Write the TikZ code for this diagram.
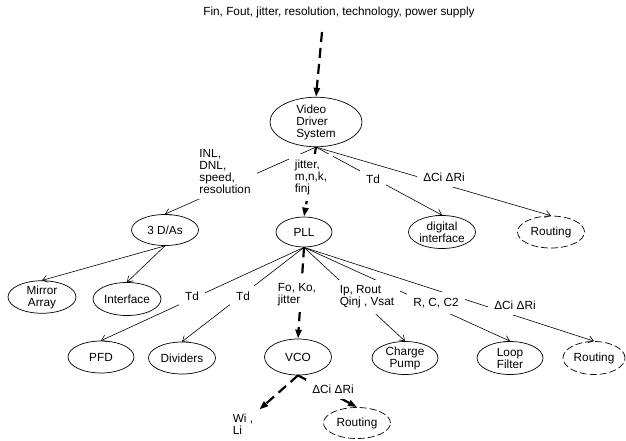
\documentclass[tikz,border=0pt]{standalone}
\usepackage{fontspec}
\setmainfont{Liberation Sans}
\usetikzlibrary{shapes.geometric,arrows.meta}

\begin{document}
\begin{tikzpicture}[x=1pt,y=-1pt,font=\fontsize{11.8}{12}\selectfont,
  blk/.style={ellipse,draw,line width=.7pt,inner sep=0pt,minimum width=67pt,minimum height=32pt,align=center},
  rte/.style={blk,dash pattern=on 7pt off 3pt},
  lbl/.style={fill=white,inner sep=6pt,align=left},
  thn/.style={line width=.6pt,-{Straight Barb[length=5pt,width=7pt]}},
  fat/.style={line width=2.2pt,dash pattern=on 10pt off 6pt,-{Triangle[length=9pt,width=6pt]}}]
  \useasboundingbox (0,0) rectangle (626,440);

  \node (ttl) at (339,12) {Fin, Fout, jitter, resolution, technology, power supply};
  \coordinate (src) at (322,32);

  \node[blk,minimum width=92pt,minimum height=44pt,align=left] (vds) at (316,122) {Video\\Driver\\System};

  \node[blk,minimum height=31pt] (dacs) at (165,230) {3 D/As};
  \node[blk,minimum width=56pt,minimum height=30pt] (pll) at (304,232) {PLL};
  \node[blk,minimum height=33pt] (dint) at (442,232) {digital\\interface};
  \node[rte] (rt1) at (551,232) {Routing};

  \node[blk,minimum width=68pt,minimum height=31pt] (mir) at (42,297) {Mirror\\Array};
  \node[blk,minimum width=68pt,minimum height=33pt] (ifc) at (127,299) {Interface};

  \node[blk,minimum width=66pt] (pfd) at (101,357) {PFD};
  \node[blk] (div) at (182,358) {Dividers};
  \node[blk,minimum height=36pt] (vco) at (298,357) {VCO};
  \node[blk,minimum width=66pt,minimum height=33pt] (cp) at (405,358) {Charge\\Pump};
  \node[blk,minimum width=66pt,minimum height=33pt] (lf) at (510,358) {Loop\\Filter};
  \node[rte,minimum width=62pt,minimum height=33pt] (rt2) at (594,358) {Routing};
  \node[rte,minimum height=31pt] (rt3) at (357,423) {Routing};

  % connectors
  \draw[fat] (src) -- (vds.north);
  \draw[thn] (vds.south) -- (dacs.north);
  \draw[fat] (vds.south) -- (pll.north);
  \draw[thn] (vds.south) -- (dint.north);
  \draw[thn] (vds.south) -- (rt1.north);

  \draw[thn] (dacs.south) -- (mir.north);
  \draw[thn] (dacs.south) -- (ifc.north);

  \draw[thn] (pll.south) -- (pfd.north);
  \draw[thn] (pll.south) -- (div.north);
  \draw[fat] (pll.south) -- (vco.north);
  \draw[thn] (pll.south) -- (cp.north);
  \draw[thn] (pll.south) -- (lf.north);
  \draw[thn] (pll.south) -- (rt2.north);

  \draw[fat] (vco.south) -- (rt3.north);

  % labels over the connectors
  \node[lbl] (lInl) at (225,171) {INL,\\DNL,\\speed,\\resolution};
  \node[lbl] (lJit) at (311,177) {jitter,\\m,n,k,\\finj};
  \node[lbl] (lTd0) at (373,179) {Td};
  \node[lbl] (lDr0) at (444,177) {ΔCi ΔRi};
  \node[lbl] (lTd1) at (192,296) {Td};
  \node[lbl] (lTd2) at (243,296) {Td};
  \node[lbl] (lFo) at (297,295) {Fo, Ko,\\jitter};
  \node[lbl] (lIp) at (367,297) {Ip, Rout\\Qinj , Vsat};
  \node[lbl] (lRc) at (436,303) {R, C, C2};
  \node[lbl] (lDr1) at (515,305) {ΔCi ΔRi};
  \node[lbl] (lDr2) at (333,389) {ΔCi ΔRi};
  \node[lbl] (lWi) at (243,424) {Wi ,\\Li};

  \draw[fat] (vco.south) -- (lWi);
\end{tikzpicture}
\end{document}
